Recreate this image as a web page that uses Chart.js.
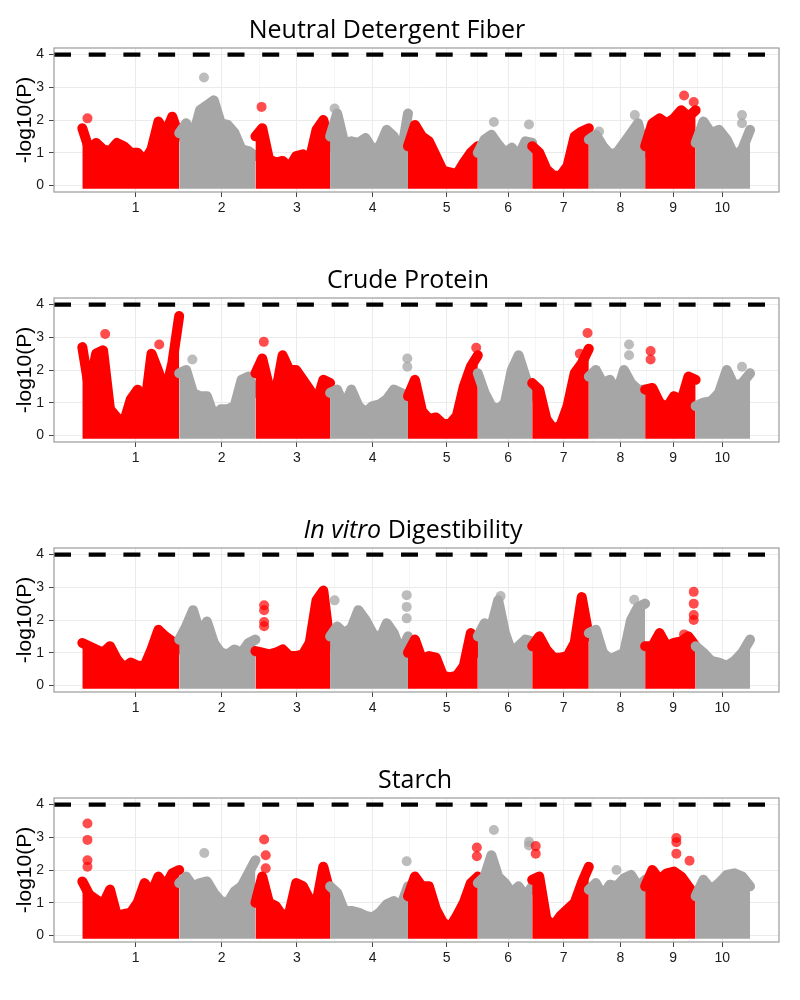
<!DOCTYPE html>
<html lang="en">
<head>
<meta charset="UTF-8">
<title>Manhattan plots</title>
<script src="https://cdn.jsdelivr.net/npm/chart.js@4.4.2/dist/chart.umd.min.js"></script>
<style>
    body { margin: 0; background: #fff; }
    .panel { position: relative; width: 800px; height: 250px; }
    .panel h2 {
        position: absolute; top: 16px; margin: 0;
        font: 400 25px 'Open Sans', sans-serif; line-height: 1;
        white-space: nowrap; transform: translateX(-50%); color: #000;
    }
    canvas { display: block; }
</style>
</head>
<body>

<div class="panel"><h2 style="left:387px">Neutral Detergent Fiber</h2><canvas id="ndf" width="800" height="250"></canvas></div>
<div class="panel"><h2 style="left:408px">Crude Protein</h2><canvas id="cp" width="800" height="250"></canvas></div>
<div class="panel"><h2 style="left:413px"><i>In vitro</i> Digestibility</h2><canvas id="ivd" width="800" height="250"></canvas></div>
<div class="panel"><h2 style="left:415px">Starch</h2><canvas id="starch" width="800" height="250"></canvas></div>

<script>
    // chromosomes (cumulative position, Mb)
    const chrNames = ['1', '2', '3', '4', '5', '6', '7', '8', '9', '10'];
    const chrStart = [0, 301, 538, 770, 1012, 1229, 1398, 1574, 1749, 1906];
    const chrEnd   = [301, 538, 770, 1012, 1229, 1398, 1574, 1749, 1906, 2075];
    const tickPos  = [166, 433, 667, 902, 1132, 1323, 1496, 1672, 1836, 1989];
    const threshold = 4;

    // upper edge of the -log10(P) cloud along each chromosome (evenly spaced reads)
    const ndfTop = [
        [1.75, 1.1, 1.3, 1.1, 1.05, 1.3, 1.2, 1.0, 1.0, 0.75, 1.1, 1.95, 1.6, 2.1, 1.5],
        [1.6, 1.9, 1.5, 2.3, 2.45, 2.6, 1.9, 1.85, 1.6, 1.1, 1.05, 0.9],
        [1.5, 1.75, 0.8, 0.7, 0.75, 0.55, 0.9, 0.95, 0.8, 1.7, 2.0, 1.2],
        [1.5, 2.2, 1.3, 1.35, 1.3, 1.45, 1.1, 1.2, 1.7, 1.5, 0.9, 2.2],
        [1.2, 1.85, 1.5, 1.35, 0.9, 0.45, 0.4, 0.35, 0.7, 1.0, 1.2],
        [1.0, 1.4, 1.55, 1.25, 1.0, 1.15, 0.9, 1.35, 1.3],
        [1.2, 1.0, 0.5, 0.3, 0.3, 0.6, 1.5, 1.65, 1.75],
        [1.4, 1.55, 1.2, 0.95, 1.0, 1.3, 1.6, 1.9, 1.0],
        [1.2, 1.9, 2.05, 1.9, 2.05, 2.3, 2.1, 2.3],
        [1.3, 1.95, 1.6, 1.7, 1.4, 0.9, 1.1, 1.7]
    ];
    const ndfPeaks = [[16, 2.05], [378, 3.3], [557, 2.4], [784, 2.35], [1279, 1.94], [1388, 1.86],
        [1606, 1.65], [1717, 2.15], [1870, 2.75], [1900, 2.55], [2050, 2.15], [2050, 1.9]];

    const cpTop = [
        [2.7, 1.4, 2.5, 2.6, 0.8, 0.55, 0.4, 1.1, 1.4, 0.8, 2.5, 1.95, 1.3, 2.2, 3.65],
        [1.9, 2.0, 1.3, 1.2, 1.2, 0.6, 0.8, 0.8, 0.9, 1.7, 1.8, 1.3],
        [1.9, 2.35, 1.5, 1.3, 2.45, 2.0, 2.0, 1.7, 1.4, 1.0, 1.7, 1.6],
        [1.3, 1.4, 0.9, 1.4, 0.9, 0.7, 0.9, 0.95, 1.1, 1.4, 1.3, 1.2],
        [1.2, 1.7, 0.75, 0.5, 0.55, 0.35, 0.35, 0.6, 1.5, 2.1, 2.45],
        [1.9, 1.3, 0.9, 0.8, 1.0, 2.0, 2.45, 1.8, 1.2],
        [1.6, 1.4, 0.5, 0.2, 0.3, 0.9, 1.9, 2.2, 2.65],
        [1.8, 2.0, 1.6, 1.7, 1.3, 2.0, 1.6, 1.4, 1.4],
        [1.4, 1.45, 1.0, 0.85, 1.2, 1.05, 1.8, 1.7],
        [0.9, 1.0, 1.05, 1.3, 2.0, 1.5, 1.6, 1.9]
    ];
    const cpPeaks = [[71, 3.1], [239, 2.78], [342, 2.32], [564, 2.86], [1010, 2.35], [1010, 2.1],
        [1224, 2.68], [1546, 2.5], [1570, 3.13], [1699, 2.78], [1699, 2.45], [1766, 2.58],
        [1766, 2.32], [2050, 2.1]];

    const ivdTop = [
        [1.3, 1.2, 1.1, 1.0, 1.2, 0.8, 0.55, 0.7, 0.6, 0.6, 1.1, 1.7, 1.5, 1.35, 1.1],
        [1.4, 1.8, 2.3, 1.6, 1.95, 1.3, 1.0, 0.95, 1.1, 1.0, 1.3, 1.4],
        [1.05, 1.0, 0.95, 1.0, 1.1, 0.9, 0.9, 0.95, 1.3, 2.6, 2.9, 1.2],
        [1.5, 1.8, 1.6, 1.75, 2.3, 2.0, 1.6, 1.4, 1.9, 1.6, 1.0, 1.5],
        [1.0, 1.4, 0.8, 0.9, 0.85, 0.3, 0.25, 0.3, 0.6, 1.6, 1.0],
        [1.5, 1.9, 1.8, 2.6, 1.6, 1.0, 1.2, 1.4, 1.35],
        [1.2, 1.5, 1.1, 0.85, 0.85, 0.9, 1.3, 2.7, 1.5],
        [1.6, 1.7, 1.0, 0.8, 0.9, 1.0, 2.0, 2.4, 2.5],
        [1.2, 1.2, 1.6, 1.2, 1.3, 1.35, 1.5, 1.2],
        [1.2, 1.0, 0.75, 0.7, 0.6, 0.75, 1.0, 1.4]
    ];
    const ivdPeaks = [[565, 2.45], [565, 2.3], [565, 1.94], [565, 1.81], [784, 2.6], [1008, 2.76],
        [1008, 2.4], [1008, 2.05], [1300, 2.73], [1715, 2.62], [1900, 2.86], [1900, 2.5],
        [1900, 2.15], [1900, 2.0], [1870, 1.56]];

    const starchTop = [
        [1.65, 1.25, 1.1, 0.95, 1.4, 0.6, 0.65, 0.7, 1.0, 1.6, 1.3, 1.8, 1.5, 1.9, 2.0],
        [1.6, 1.8, 1.5, 1.6, 1.65, 1.3, 1.05, 1.0, 1.35, 1.5, 1.9, 2.3],
        [1.0, 1.8, 1.0, 0.9, 0.6, 0.7, 1.6, 1.5, 1.1, 1.0, 2.1, 1.3],
        [1.5, 1.3, 0.75, 0.75, 0.7, 0.6, 0.55, 0.7, 0.95, 1.05, 0.9, 1.5],
        [1.2, 1.8, 1.5, 1.5, 0.8, 0.4, 0.25, 0.6, 1.0, 1.6, 1.8],
        [1.6, 1.8, 2.45, 1.8, 1.6, 1.3, 1.5, 1.2, 1.5],
        [1.7, 1.8, 0.5, 0.3, 0.6, 0.8, 1.0, 1.6, 2.1],
        [1.4, 1.6, 1.2, 1.55, 1.5, 1.75, 1.85, 1.5, 1.7],
        [1.5, 2.0, 1.7, 1.9, 1.95, 1.8, 1.5, 1.2],
        [1.2, 1.7, 1.4, 1.6, 1.85, 1.9, 1.8, 1.5]
    ];
    const starchPeaks = [[16, 3.42], [16, 2.92], [16, 2.3], [16, 2.1], [379, 2.52], [565, 2.93],
        [570, 2.45], [570, 2.05], [1008, 2.27], [1226, 2.69], [1226, 2.42], [1279, 3.22],
        [1388, 2.86], [1388, 2.75], [1409, 2.73], [1409, 2.5], [1660, 2.0], [1846, 2.98],
        [1846, 2.85], [1846, 2.5], [1887, 2.28]];

    const RED = '#ff0000';
    const GREY = '#a6a6a6';
    const RED_A = 'rgba(255,0,0,0.7)';
    const GREY_A = 'rgba(166,166,166,0.75)';
    const TICK_FONT = { family: "'Liberation Sans', Arial, sans-serif", size: 14 };

    // minor grid lines half way between chromosome ticks
    const xMinor = tickPos.slice(1).map((p, i) => (p + tickPos[i]) / 2);
    const xGridVals = tickPos.concat(xMinor).sort((a, b) => a - b);
    const yGridVals = [0, 0.5, 1, 1.5, 2, 2.5, 3, 3.5, 4];

    function chrOf(pos) {
        for (let c = 0; c < chrStart.length; c++) {
            if (pos >= chrStart[c] && pos < chrEnd[c]) return c;
        }
        return chrStart.length - 1;
    }

    const framePlugin = {
        id: 'frame',
        afterDatasetsDraw(chart) {
            const { ctx, chartArea: a } = chart;
            ctx.save();
            ctx.strokeStyle = '#9c9c9c';
            ctx.lineWidth = 1.2;
            ctx.strokeRect(a.left, a.top, a.right - a.left, a.bottom - a.top);
            ctx.restore();
        }
    };

    function drawPanel(id, tops, peaks) {
        const datasets = [];

        tops.forEach((vals, c) => {
            const a = chrStart[c], b = chrEnd[c], n = vals.length;
            const col = c % 2 === 0 ? RED : GREY;
            datasets.push({
                data: vals.map((v, j) => ({ x: a + (b - a) * j / (n - 1), y: v })),
                borderColor: col,
                backgroundColor: col,
                borderWidth: 10,
                borderJoinStyle: 'round',
                borderCapStyle: 'round',
                fill: { value: -0.1 },
                pointRadius: 0,
                order: 20 - c
            });
        });

        datasets.push({
            data: peaks.map(p => ({ x: p[0], y: p[1] })),
            showLine: false,
            pointRadius: 5,
            pointBorderWidth: 0,
            pointBackgroundColor: peaks.map(p => chrOf(p[0]) % 2 === 0 ? RED_A : GREY_A),
            order: 1
        });

        datasets.push({
            data: [{ x: -88, y: threshold }, { x: 2165, y: threshold }],
            borderColor: '#000',
            borderWidth: 4.3,
            borderDash: [17, 17.7],
            pointRadius: 0,
            fill: false,
            order: 0
        });

        new Chart(document.getElementById(id), {
            type: 'line',
            data: { datasets: datasets },
            options: {
                responsive: false,
                animation: false,
                events: [],
                layout: { padding: { top: 48, right: 21, left: 0, bottom: 0 } },
                plugins: { legend: { display: false }, tooltip: { enabled: false } },
                elements: { line: { tension: 0 } },
                scales: {
                    x: {
                        type: 'linear',
                        min: -88,
                        max: 2165,
                        afterBuildTicks: s => { s.ticks = xGridVals.map(v => ({ value: v })); },
                        afterFit: s => { s.height = 58; },
                        border: { display: false },
                        grid: {
                            color: ctx => tickPos.includes(ctx.tick.value) ? '#ebebeb' : '#f6f6f6',
                            tickColor: ctx => tickPos.includes(ctx.tick.value) ? '#444' : 'rgba(0,0,0,0)',
                            tickLength: 5,
                            lineWidth: 1
                        },
                        ticks: {
                            autoSkip: false,
                            maxRotation: 0,
                            padding: 3,
                            color: '#1a1a1a',
                            font: TICK_FONT,
                            callback: v => {
                                const i = tickPos.indexOf(v);
                                return i >= 0 ? chrNames[i] : '';
                            }
                        }
                    },
                    y: {
                        min: -0.2,
                        max: 4.2,
                        afterBuildTicks: s => { s.ticks = yGridVals.map(v => ({ value: v })); },
                        afterFit: s => { s.width = 54; },
                        border: { display: false },
                        grid: {
                            color: ctx => Number.isInteger(ctx.tick.value) ? '#ebebeb' : '#f6f6f6',
                            tickColor: ctx => Number.isInteger(ctx.tick.value) ? '#444' : 'rgba(0,0,0,0)',
                            tickLength: 5,
                            lineWidth: 1
                        },
                        ticks: {
                            padding: 5,
                            color: '#1a1a1a',
                            font: TICK_FONT,
                            callback: v => Number.isInteger(v) ? String(v) : ''
                        },
                        title: {
                            display: true,
                            text: '-log10(P)',
                            color: '#000',
                            font: { family: "'Liberation Sans', Arial, sans-serif", size: 21 },
                            padding: { top: 13, bottom: 0 }
                        }
                    }
                }
            },
            plugins: [framePlugin]
        });
    }

    drawPanel('ndf', ndfTop, ndfPeaks);
    drawPanel('cp', cpTop, cpPeaks);
    drawPanel('ivd', ivdTop, ivdPeaks);
    drawPanel('starch', starchTop, starchPeaks);
</script>
</body>
</html>
